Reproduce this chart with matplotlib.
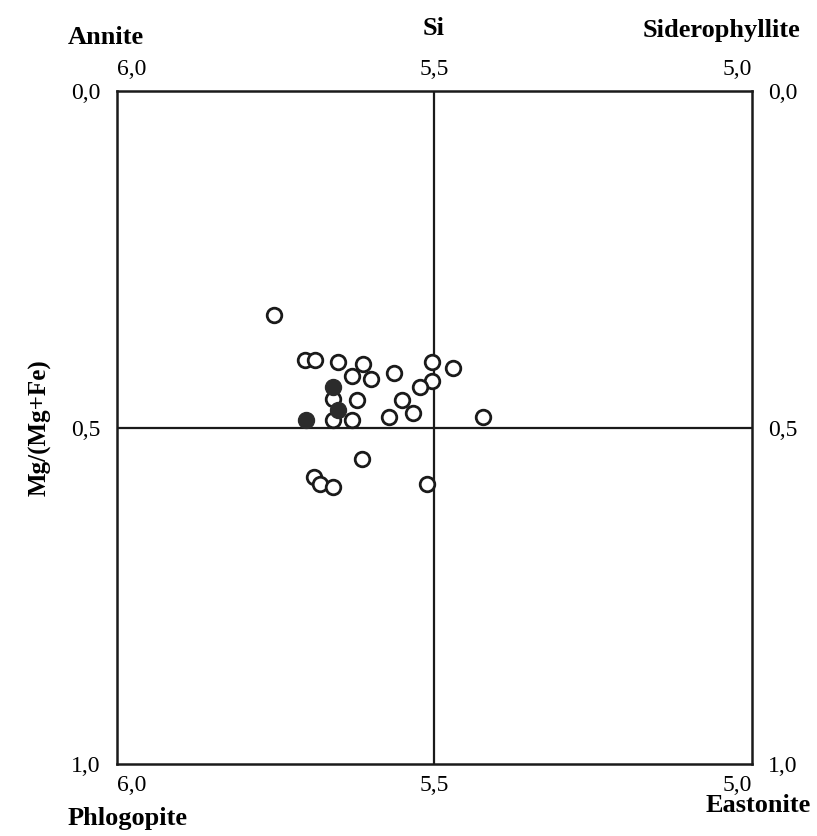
import matplotlib
matplotlib.use("Agg")
import matplotlib.pyplot as plt

plt.rcParams['font.family'] = ['Liberation Serif', 'DejaVu Serif']

# open circles: Si (apfu), Mg/(Mg+Fe)
si_open = [5.753, 5.703, 5.688, 5.652, 5.613, 5.629, 5.600, 5.564, 5.504, 5.470,
           5.504, 5.522, 5.659, 5.622, 5.550, 5.533, 5.571, 5.630, 5.660, 5.423,
           5.614, 5.689, 5.680, 5.659, 5.512]
mg_open = [0.332, 0.400, 0.400, 0.403, 0.406, 0.423, 0.428, 0.419, 0.403, 0.412,
           0.431, 0.440, 0.457, 0.459, 0.459, 0.479, 0.484, 0.488, 0.488, 0.484,
           0.547, 0.574, 0.584, 0.588, 0.584]

# filled circles
si_fill = [5.660, 5.702, 5.651]
mg_fill = [0.440, 0.488, 0.474]

x_ticks = [6.0, 5.5, 5.0]
x_labels = ['6,0', '5,5', '5,0']
y_ticks = [0.0, 0.5, 1.0]
y_labels = ['0,0', '0,5', '1,0']

fig = plt.figure(figsize=(8.17, 8.36), dpi=100)
ax = fig.add_axes([0.143, 0.086, 0.777, 0.805])

ax.axvline(5.5, color='#1a1a1a', lw=1.6, zorder=1)
ax.axhline(0.5, color='#1a1a1a', lw=1.6, zorder=1)

ax.plot(si_open, mg_open, 'o', ms=10.5, mfc='white', mec='#1a1a1a', mew=2.0, zorder=3)
ax.plot(si_fill, mg_fill, 'o', ms=11.5, mfc='#2b2b2b', mec='#2b2b2b', mew=1.0, zorder=4)

ax.set_xlim(6.0, 5.0)
ax.set_ylim(1.0, 0.0)
for s in ax.spines.values():
    s.set_linewidth(1.8)
    s.set_color('#1a1a1a')

ax.set_xticks(x_ticks)
ax.set_xticklabels(x_labels)
ax.set_yticks(y_ticks)
ax.set_yticklabels(y_labels)
ax.tick_params(length=0, labelsize=17, labeltop=True, labelbottom=True,
               labelleft=True, labelright=True)
ax.tick_params(axis='x', pad=8)
ax.tick_params(axis='y', pad=12)
for t, ha in zip(ax.xaxis.get_major_ticks(), ['left', 'center', 'right']):
    t.label1.set_horizontalalignment(ha)
    t.label2.set_horizontalalignment(ha)

ax.set_ylabel('Mg/(Mg+Fe)', fontsize=18, fontweight='bold', labelpad=14)

fig.text(0.083, 0.955, 'Annite', fontsize=19, fontweight='bold', ha='left', va='center')
fig.text(0.531, 0.966, 'Si', fontsize=19, fontweight='bold', ha='center', va='center')
fig.text(0.980, 0.964, 'Siderophyllite', fontsize=19, fontweight='bold', ha='right', va='center')
fig.text(0.083, 0.021, 'Phlogopite', fontsize=19, fontweight='bold', ha='left', va='center')
fig.text(0.992, 0.036, 'Eastonite', fontsize=19, fontweight='bold', ha='right', va='center')

fig.savefig('out.png', dpi=100, facecolor='white')
